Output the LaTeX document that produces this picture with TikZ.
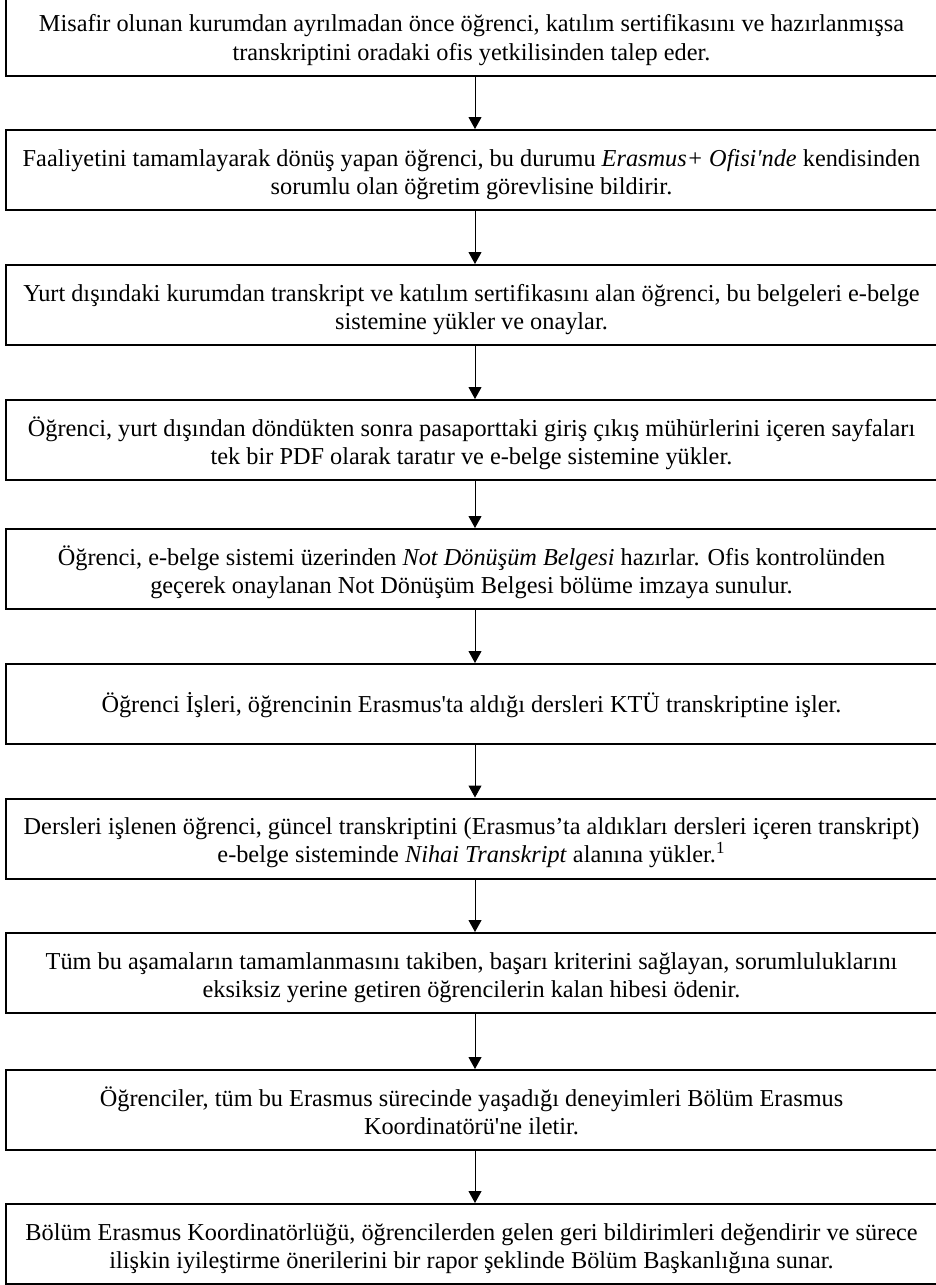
\documentclass[tikz,border=0pt]{standalone}
\usepackage{fontspec}
\setmainfont{Liberation Serif}[Ligatures=TeXOff]
\usetikzlibrary{arrows.meta}
\newcommand\btext[1]{\parbox[t]{464pt}{\centering #1}}
\tikzset{
  stepbox/.style={draw=black, line width=1pt, minimum width=465.5pt, minimum height=40pt,
    inner sep=0pt, font=\fontsize{12.15}{14}\selectfont},
  twoline/.style={text height=18pt, text depth=22pt},
  oneline/.style={text height=24pt, text depth=16pt},
  flow/.style={-{Triangle[length=6pt,width=6.5pt]}, line width=0.5pt, black}
}
\begin{document}
\begin{tikzpicture}[x=0.5pt,y=-0.5pt]
\useasboundingbox (0,0) rectangle (936,1285);
\node[stepbox,twoline] (b1) at (471.5,36) {\btext{Misafir olunan kurumdan ayrılmadan önce öğrenci, katılım sertifikasını ve hazırlanmışsa\\ transkriptini oradaki ofis yetkilisinden talep eder.}};
\node[stepbox,twoline] (b2) at (471.5,170) {\btext{Faaliyetini tamamlayarak dönüş yapan öğrenci, bu durumu \textit{Erasmus+ Ofisi'nde} kendisinden\\ sorumlu olan öğretim görevlisine bildirir.}};
\node[stepbox,twoline] (b3) at (471.5,305) {\btext{Yurt dışındaki kurumdan transkript ve katılım sertifikasını alan öğrenci, bu belgeleri e-belge\\ sistemine yükler ve onaylar.}};
\node[stepbox,twoline] (b4) at (471.5,440) {\btext{Öğrenci, yurt dışından döndükten sonra pasaporttaki giriş çıkış mühürlerini içeren sayfaları\\ tek bir PDF olarak taratır ve e-belge sistemine yükler.}};
\node[stepbox,twoline] (b5) at (471.5,569) {\btext{Öğrenci, e-belge sistemi üzerinden \textit{Not Dönüşüm Belgesi} hazırlar. Ofis kontrolünden\\ geçerek onaylanan Not Dönüşüm Belgesi bölüme imzaya sunulur.}};
\node[stepbox,oneline] (b6) at (471.5,704) {\btext{Öğrenci İşleri, öğrencinin Erasmus'ta aldığı dersleri KTÜ transkriptine işler.}};
\node[stepbox,twoline] (b7) at (471.5,838.5) {\btext{Dersleri işlenen öğrenci, güncel transkriptini (Erasmus’ta aldıkları dersleri içeren transkript)\\ e-belge sisteminde \textit{Nihai Transkript} alanına yükler.\textsuperscript{1}}};
\node[stepbox,twoline] (b8) at (471.5,973) {\btext{Tüm bu aşamaların tamamlanmasını takiben, başarı kriterini sağlayan, sorumluluklarını\\ eksiksiz yerine getiren öğrencilerin kalan hibesi ödenir.}};
\node[stepbox,twoline] (b9) at (471.5,1110) {\btext{Öğrenciler, tüm bu Erasmus sürecinde yaşadığı deneyimleri Bölüm Erasmus\\ Koordinatörü'ne iletir.}};
\node[stepbox,twoline] (b10) at (471.5,1244) {\btext{Bölüm Erasmus Koordinatörlüğü, öğrencilerden gelen geri bildirimleri değendirir ve sürece\\ ilişkin iyileştirme önerilerini bir rapor şeklinde Bölüm Başkanlığına sunar.}};
\foreach \a/\b in {b1/b2,b2/b3,b3/b4,b4/b5,b5/b6,b6/b7,b7/b8,b8/b9,b9/b10}
  \draw[flow] ([xshift=1.75pt]\a.south) -- ([xshift=1.75pt]\b.north);
\end{tikzpicture}
\end{document}
